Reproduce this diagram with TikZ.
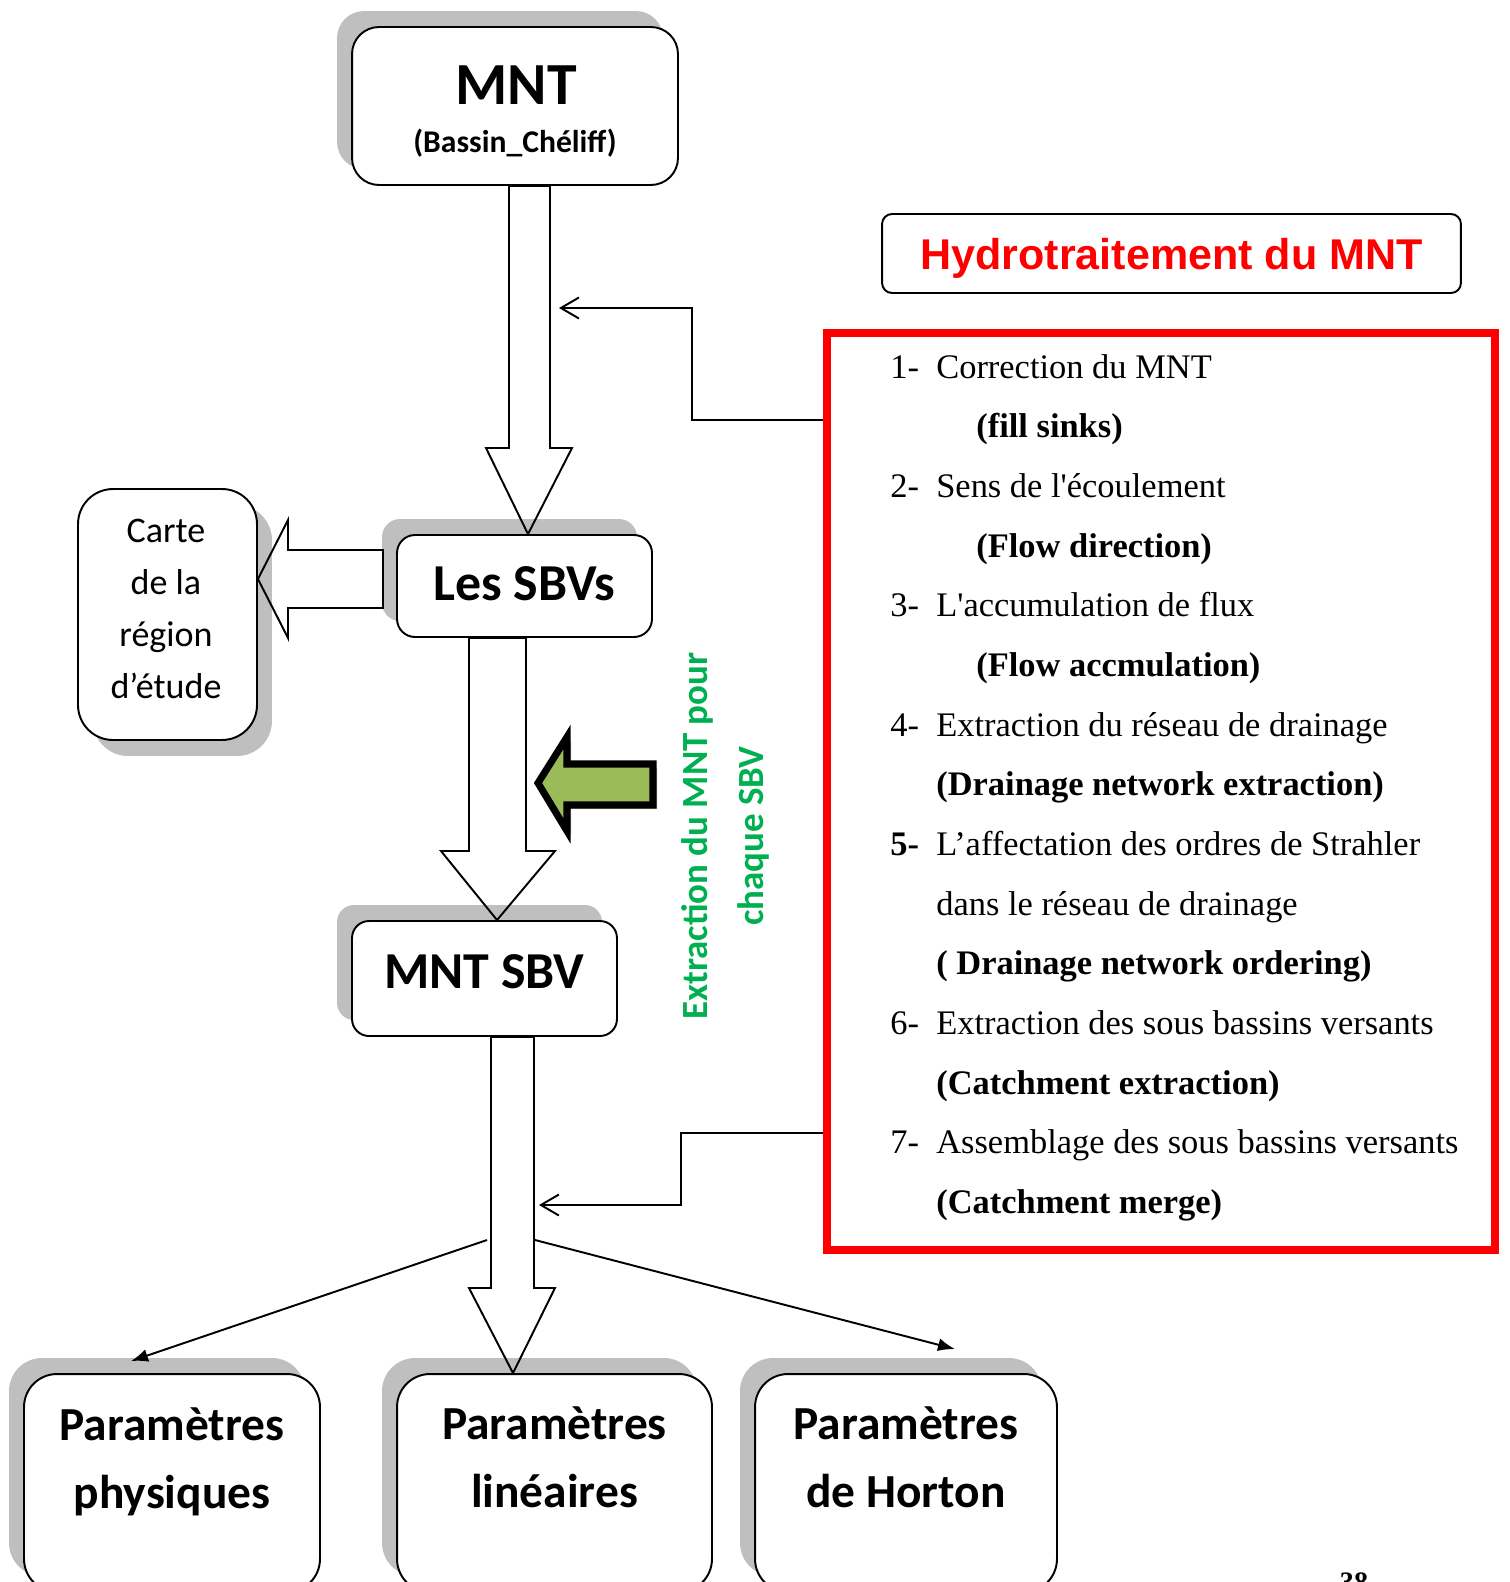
\documentclass[tikz,border=0pt]{standalone}
\usepackage{fontspec}
\setmainfont{Carlito}
\newfontfamily\stepfont{Liberation Serif}
\newfontfamily\headfont{Liberation Sans}
\usetikzlibrary{arrows.meta,calc,shadows}
\definecolor{shadowgray}{HTML}{BFBFBF}
\definecolor{hydrored}{HTML}{FF0000}
\definecolor{sbvgreen}{HTML}{00B050}
\definecolor{arrowolive}{HTML}{9BBB59}
\definecolor{oliveshade}{HTML}{B4BBA3}

\begin{document}
\begin{tikzpicture}[
  x={(0.02cm,0)}, y={(0,-0.02cm)},
  box/.style     = {draw=black, line width=1.1pt, fill=white, inner sep=0pt},
  shadeul/.style = {drop shadow={shadow xshift=-0.3cm, shadow yshift=0.32cm, fill=shadowgray, opacity=1}},
  shadedr/.style = {drop shadow={shadow xshift=0.3cm, shadow yshift=-0.32cm, fill=shadowgray, opacity=1}},
  bigtxt/.style  = {font=\fontsize{29.5}{30}\selectfont\bfseries},
  partxt/.style  = {font=\fontsize{27}{38.5}\selectfont\bfseries, align=center, inner sep=0pt},
  hollow/.style  = {draw=black, line width=1.1pt, line join=miter},
  link/.style    = {draw=black, line width=1.1pt, -{Straight Barb[length=3.6mm, width=4.2mm]}},
  fork/.style    = {draw=black, line width=1.1pt, -{Latex[length=3.4mm, width=2.6mm]}},
]
\useasboundingbox (0,0) rectangle (1509,1582);
\clip (0,0) rectangle (1509,1582);

% --- the chain on the left: MNT, the SBVs, one MNT per SBV -----------------------------------------
\node[box, shadeul, rounded corners=0.54cm, minimum width=6.52cm, minimum height=3.16cm] (mnt) at (515,106) {};
\node[anchor=base, font=\fontsize{34}{34}\selectfont\bfseries] (mntname) at (516,104.5) {MNT};
\node[anchor=base, font=\fontsize{18}{18}\selectfont\bfseries] (mntbasin) at (515,152) {(Bassin\_Chéliff)};

\node[box, shadeul, bigtxt, rounded corners=0.36cm, minimum width=5.1cm, minimum height=2.04cm,
      text depth=3.4pt] (sbvs) at (524.5,586) {Les SBVs};
\node[box, shadeul, bigtxt, rounded corners=0.34cm, minimum width=5.3cm, minimum height=2.3cm,
      text depth=8.5pt] (mntsbv) at (484.5,978.5) {MNT SBV};

\node[box, shadedr, rounded corners=0.7cm, minimum width=3.58cm, minimum height=5.02cm] (carte) at (167.5,614.5) {};
\node[font=\fontsize{20.5}{29.5}\selectfont, align=center, inner sep=0pt] (cartetxt) at (166,609)
  {Carte\\de la\\région\\d’étude};

% --- the three parameter boxes, cut by the page -----------------------------------------------------
\node[box, shadeul, rounded corners=0.66cm, minimum width=5.92cm, minimum height=4.36cm] (physique) at (172,1483) {};
\node[box, shadeul, rounded corners=0.66cm, minimum width=6.3cm,  minimum height=4.36cm] (lineaire) at (554.5,1483) {};
\node[box, shadeul, rounded corners=0.66cm, minimum width=6.04cm, minimum height=4.36cm] (horton) at (906,1483) {};
\node[partxt] (physiquetxt) at (172,1462)   {Paramètres\\physiques};
\node[partxt] (lineairetxt) at (554.5,1457) {Paramètres\\linéaires};
\node[partxt] (hortontxt)   at (906,1457)   {Paramètres\\de Horton};

% --- hydro-processing: title and the red list -------------------------------------------------------
\node[box, rounded corners=0.2cm, minimum width=11.58cm, minimum height=1.58cm, text=hydrored, text depth=0pt,
      font=\headfont\fontsize{24.5}{25}\selectfont\bfseries] (hydro) at (1171.5,253.5) {Hydrotraitement du MNT};

\node[draw=hydrored, line width=4.5pt, minimum width=13.36cm, minimum height=18.34cm, inner sep=0pt] (steps) at (1161,791.5) {};
\node[anchor=north west, inner sep=0pt, font=\stepfont\fontsize{19.6}{33.96}\selectfont] (steplist) at (890,336) {%
  \begin{tabular}{@{}p{0.92cm}@{}l@{}}
  1- & Correction du MNT \\
     & \hspace*{0.8cm}\textbf{(fill sinks)} \\
  2- & Sens de l\textquotesingle écoulement \\
     & \hspace*{0.8cm}\textbf{(Flow direction)} \\
  3- & L\textquotesingle accumulation de flux \\
     & \hspace*{0.8cm}\textbf{(Flow accmulation)} \\
  4- & Extraction du réseau de drainage \\
     & \textbf{(Drainage network extraction)} \\
  \textbf{5-} & L’affectation des ordres de Strahler \\
     & dans le réseau de drainage \\
     & \textbf{( Drainage network ordering)} \\
  6- & Extraction des sous bassins versants \\
     & \textbf{(Catchment extraction)} \\
  7- & Assemblage des sous bassins versants \\
     & \textbf{(Catchment merge)}
  \end{tabular}};

% --- block arrows, open so the shadows show through -------------------------------------------------
\draw[hollow] (509,0 |- mnt.south) -- (509,448) -- (486,448) -- (528,0 |- sbvs.north)
  -- (572,448) -- (550,448) -- (550,0 |- mnt.south) -- cycle;
\draw[hollow] (469,0 |- sbvs.south) -- (469,851) -- (441,851) -- (497,0 |- mntsbv.north)
  -- (555,851) -- (526,851) -- (526,0 |- sbvs.south) -- cycle;
\draw[hollow] (491,0 |- mntsbv.south) -- (491,1288) -- (469,1288) -- (513,0 |- lineaire.north)
  -- (555,1288) -- (534,1288) -- (534,0 |- mntsbv.south) -- cycle;
\draw[hollow] (383,550) -- (288,550) -- (288,520) -- (carte.east |- 0,579)
  -- (288,638) -- (288,608) -- (383,608) -- cycle;

% the green pointer and its label
\draw[line width=4pt, fill=arrowolive, line join=miter,
      drop shadow={shadow xshift=0.08cm, shadow yshift=-0.08cm, fill=oliveshade, opacity=1}]
  (538,783) -- (567,737) -- (567,764) -- (653,764) -- (653,805) -- (567,805) -- (567,831) -- cycle;
\node[rotate=90, font=\fontsize{21}{31.7}\selectfont\bfseries, text=sbvgreen, align=center, inner sep=0pt]
  (sbvlabel) at (725.5,836) {Extraction du MNT pour\\chaque SBV};

% --- thin links from the list back onto the shafts ---------------------------------------------------
\coordinate (hyd1) at (559,308);
\coordinate (hyd2) at (539,1205);
\draw[link] (steps.west |- 0,420) -| (692,308) -- (hyd1);
\draw[link] (steps.west |- 0,1133) -| (681,1205) -- (hyd2);

% --- the fork towards the outer parameter boxes -----------------------------------------------------
\coordinate (forkl) at (487,1240);
\coordinate (forkr) at (535,1240);
\draw[fork] (forkl) -- ($(physique.north)+(-41,-12)$);
\draw[fork] (forkr) -- ($(horton.north)+(49,-24)$);

\node[anchor=base, font=\stepfont\fontsize{16}{16}\selectfont\bfseries] (pagenum) at (1354,1591) {38};

\end{tikzpicture}
\end{document}
